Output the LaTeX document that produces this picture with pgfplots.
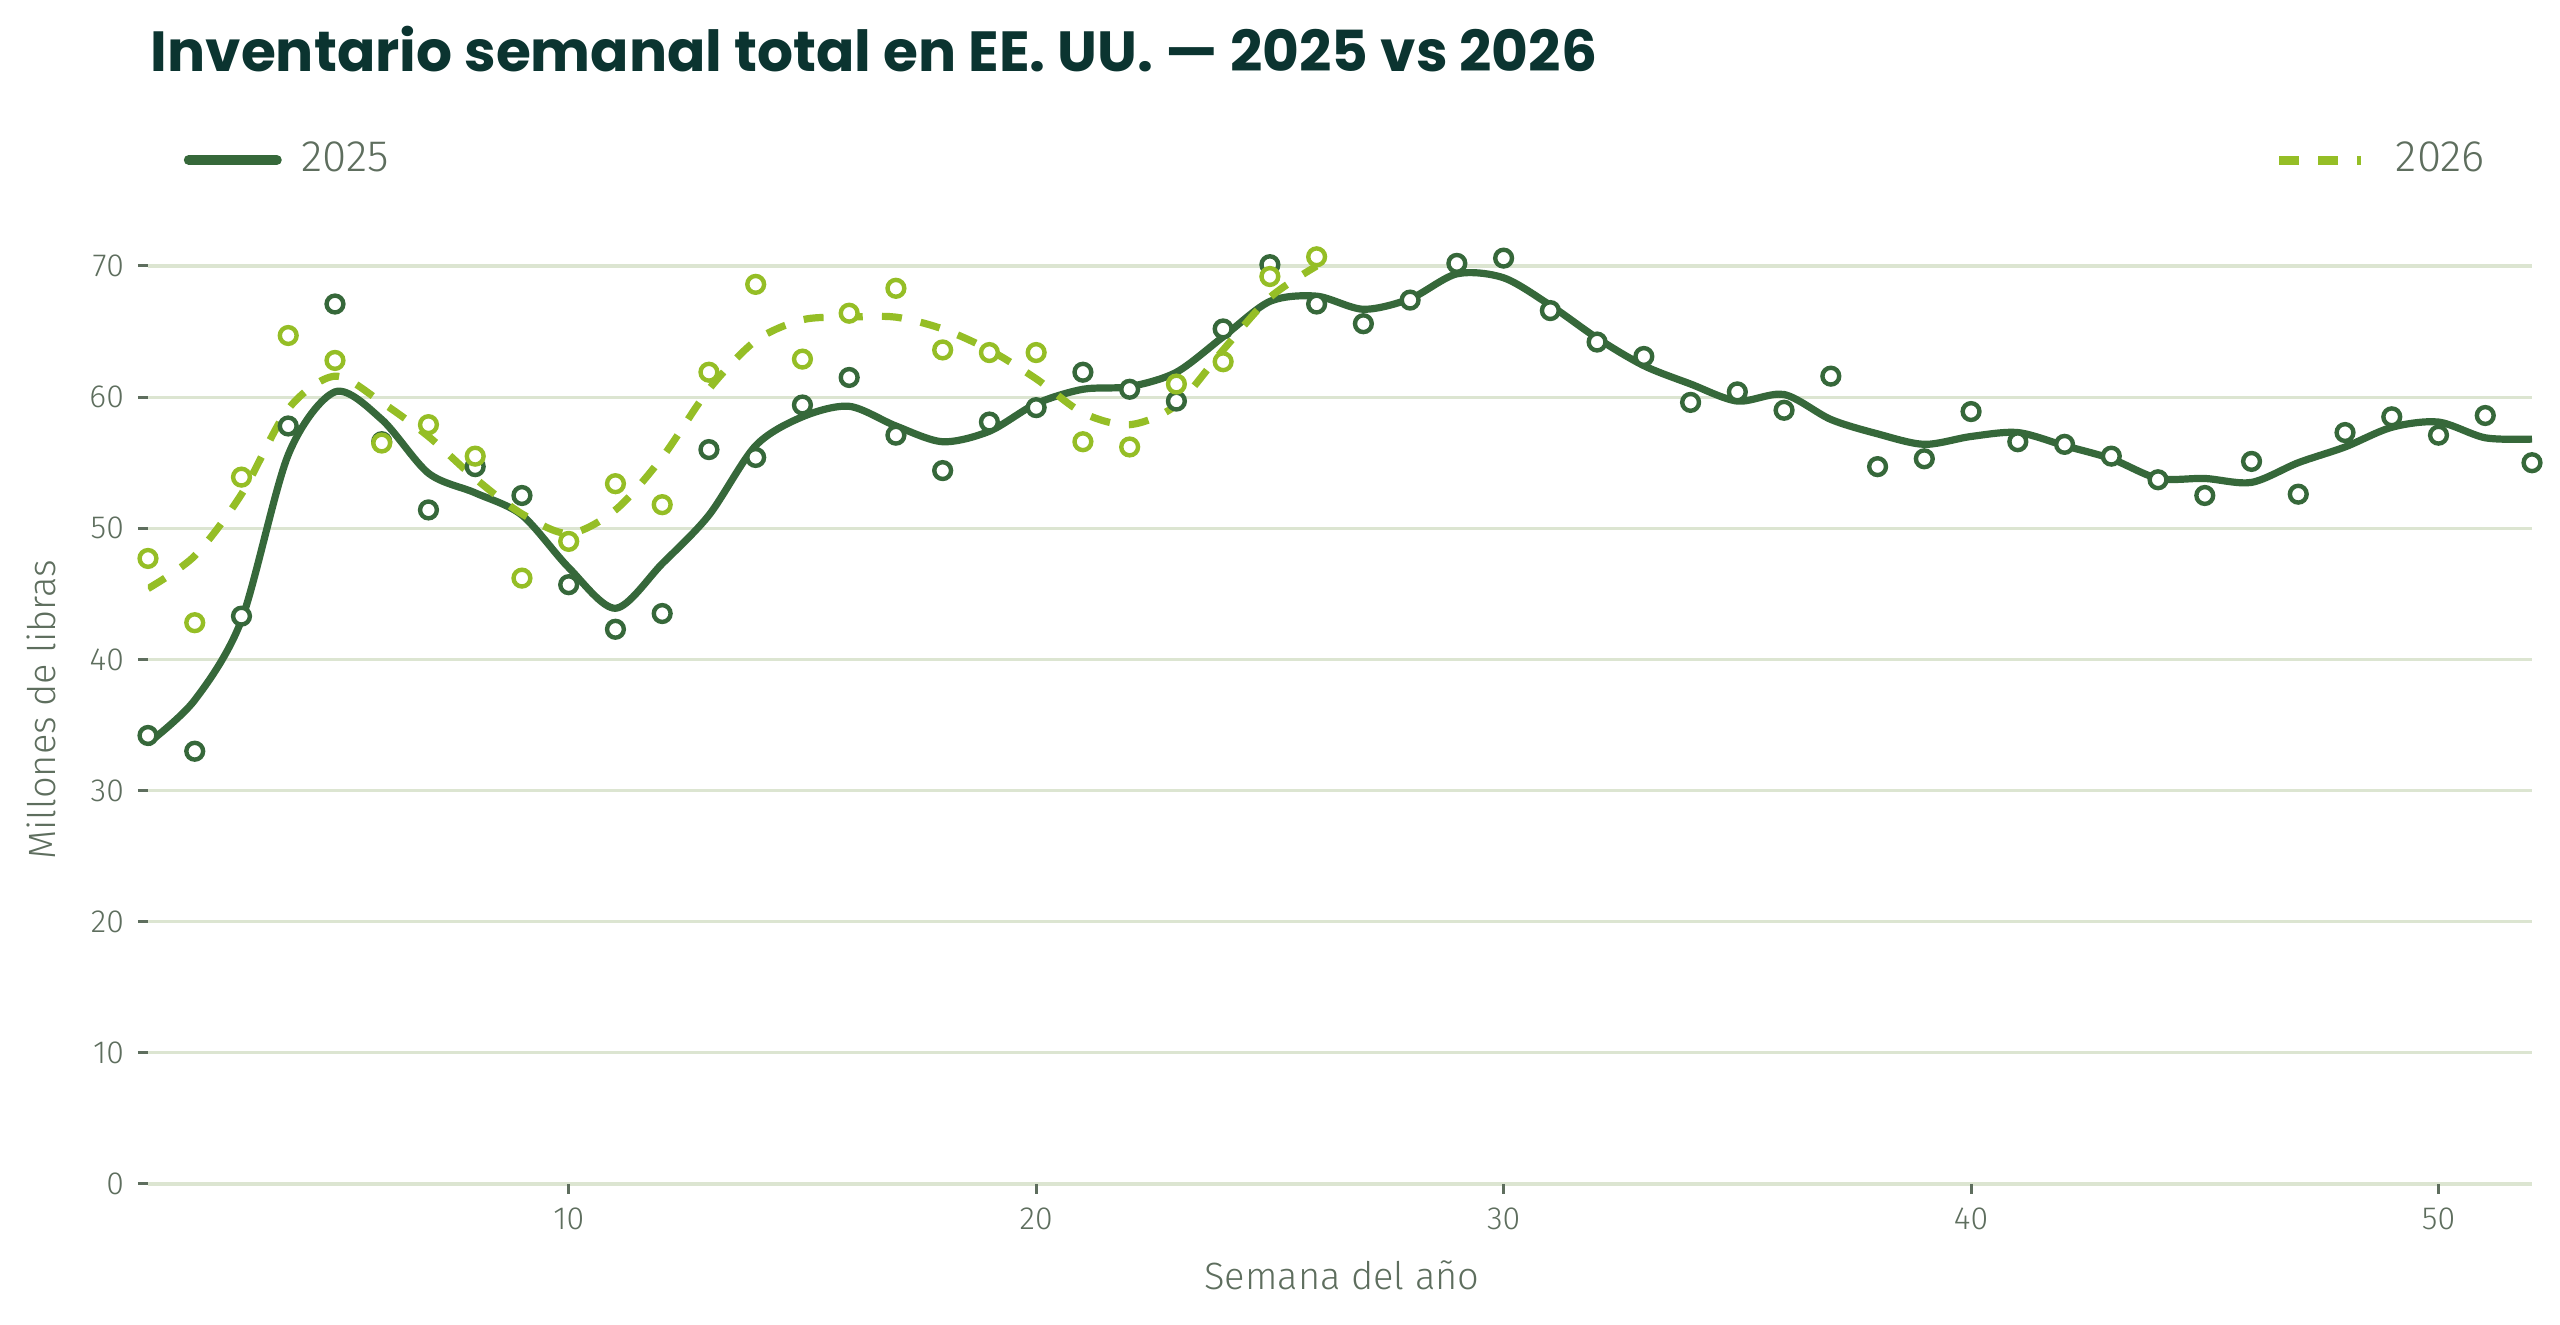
\documentclass[border=0pt]{standalone}
\usepackage{fontspec}
\usepackage{pgfplots}
\usepackage{pgfplotstable}
\pgfplotsset{compat=1.18}
\setmainfont{Fira Sans Light}
\newfontfamily\titlefont{Poppins}
\definecolor{c25}{HTML}{36683A}
\definecolor{c26}{HTML}{95BE26}
\definecolor{gridc}{HTML}{DCE5D1}
\definecolor{labc}{HTML}{5E6E5E}
\definecolor{titc}{HTML}{0B3430}

\pgfplotstableread{
w v
1 34.2
2 33.0
3 43.3
4 57.8
5 67.1
6 56.6
7 51.4
8 54.7
9 52.5
10 45.7
11 42.3
12 43.5
13 56.0
14 55.4
15 59.4
16 61.5
17 57.1
18 54.4
19 58.1
20 59.2
21 61.9
22 60.6
23 59.7
24 65.2
25 70.1
26 67.1
27 65.6
28 67.4
29 70.2
30 70.6
31 66.6
32 64.2
33 63.1
34 59.6
35 60.4
36 59.0
37 61.6
38 54.7
39 55.3
40 58.9
41 56.6
42 56.4
43 55.5
44 53.7
45 52.5
46 55.1
47 52.6
48 57.3
49 58.5
50 57.1
51 58.6
52 55.0
}\ptsA

\pgfplotstableread{
w v
1 47.7
2 42.8
3 53.9
4 64.7
5 62.8
6 56.5
7 57.9
8 55.5
9 46.2
10 49.0
11 53.4
12 51.8
13 61.9
14 68.6
15 62.9
16 66.4
17 68.3
18 63.6
19 63.4
20 63.4
21 56.6
22 56.2
23 61.0
24 62.7
25 69.2
26 70.7
}\ptsB

\pgfplotstableread{
w v
1 33.6
2 36.9
3 43.0
4 55.6
5 60.4
6 58.3
7 54.2
8 52.7
9 51.0
10 47.0
11 43.9
12 47.3
13 51.0
14 56.3
15 58.5
16 59.3
17 57.8
18 56.6
19 57.4
20 59.5
21 60.6
22 60.8
23 61.9
24 64.6
25 67.3
26 67.7
27 66.7
28 67.5
29 69.4
30 69.1
31 67.0
32 64.5
33 62.4
34 61.0
35 59.7
36 60.2
37 58.3
38 57.2
39 56.4
40 57.0
41 57.3
42 56.3
43 55.3
44 53.8
45 53.8
46 53.5
47 55.0
48 56.2
49 57.7
50 58.1
51 56.9
52 56.8
}\fitA

\pgfplotstableread{
w v
1 45.4
2 47.9
3 52.6
4 59.1
5 61.6
6 59.6
7 57.0
8 53.8
9 51.1
10 49.6
11 51.4
12 55.4
13 60.6
14 64.3
15 65.9
16 66.1
17 66.1
18 65.2
19 63.6
20 61.4
21 58.8
22 57.9
23 59.4
24 63.6
25 67.6
26 70.0
}\fitB

\begin{document}
\begin{tikzpicture}
\useasboundingbox (-37pt,-35.25pt) rectangle (603pt,296pt);
\node[anchor=base west, inner sep=0pt, text=titc, font=\titlefont\bfseries\fontsize{14.15}{16}\selectfont] at (0.5pt,278pt) {Inventario semanal total en EE.\ UU. — 2025 vs 2026};
\begin{axis}[
  at={(0pt,0pt)}, anchor=south west,
  scale only axis, width=596pt, height=243.5pt,
  xmin=1, xmax=52, ymin=0, ymax=74.27,
  axis line style={draw=none},
  xtick={10,20,30,40,50}, ytick={0,10,...,70},
  xtick pos=bottom, ytick pos=left,
  tick align=outside, major tick length=2.5pt,
  tick style={color=labc, line width=0.75pt},
  ymajorgrids, grid style={color=gridc, line width=0.8pt},
  /pgf/number format/assume math mode=true,
  ticklabel style={font=\fontsize{8}{9}\selectfont, text=labc},
  label style={font=\fontsize{9.5}{10}\selectfont, text=labc},
  xlabel={Semana del año}, ylabel={Millones de libras},
  xlabel style={at={(axis description cs:0.5008,-0.0934)}, anchor=center},
  ylabel style={at={(axis description cs:-0.0449,0.487)}, anchor=center},
  legend columns=2,
  legend style={at={(axis description cs:0,1)}, anchor=west, xshift=8.75pt, yshift=12.5pt,
    draw=none, fill=none, inner sep=0pt,
    nodes={inner sep=0pt, text=labc, font=\fontsize{11}{12}\selectfont},
    /tikz/column 1/.style={column sep=5pt},
    /tikz/column 2/.style={column sep=471.4pt},
    /tikz/column 3/.style={column sep=7.5pt}},
]
\addplot[c25, line width=1.8pt, smooth,
  legend image code/.code={\draw[c25, line width=2.5pt, line cap=round] (0pt,0pt) -- (22pt,0pt);}]
  table[x=w, y=v] {\fitA};
\addlegendentry{2025}
\addplot[c26, line width=1.8pt, smooth, dash pattern=on 5pt off 4.8pt,
  legend image code/.code={\draw[c26, line width=2.25pt, dash pattern=on 5pt off 4.8pt] (0pt,0pt) -- (20.6pt,0pt);}]
  table[x=w, y=v] {\fitB};
\addlegendentry{2026}
\addplot[only marks, mark=*, mark size=2.1pt, mark options={draw=c25, fill=white, line width=1.1pt}, forget plot]
  table[x=w, y=v] {\ptsA};
\addplot[only marks, mark=*, mark size=2.1pt, mark options={draw=c26, fill=white, line width=1.1pt}, forget plot]
  table[x=w, y=v] {\ptsB};
\end{axis}
\end{tikzpicture}
\end{document}
